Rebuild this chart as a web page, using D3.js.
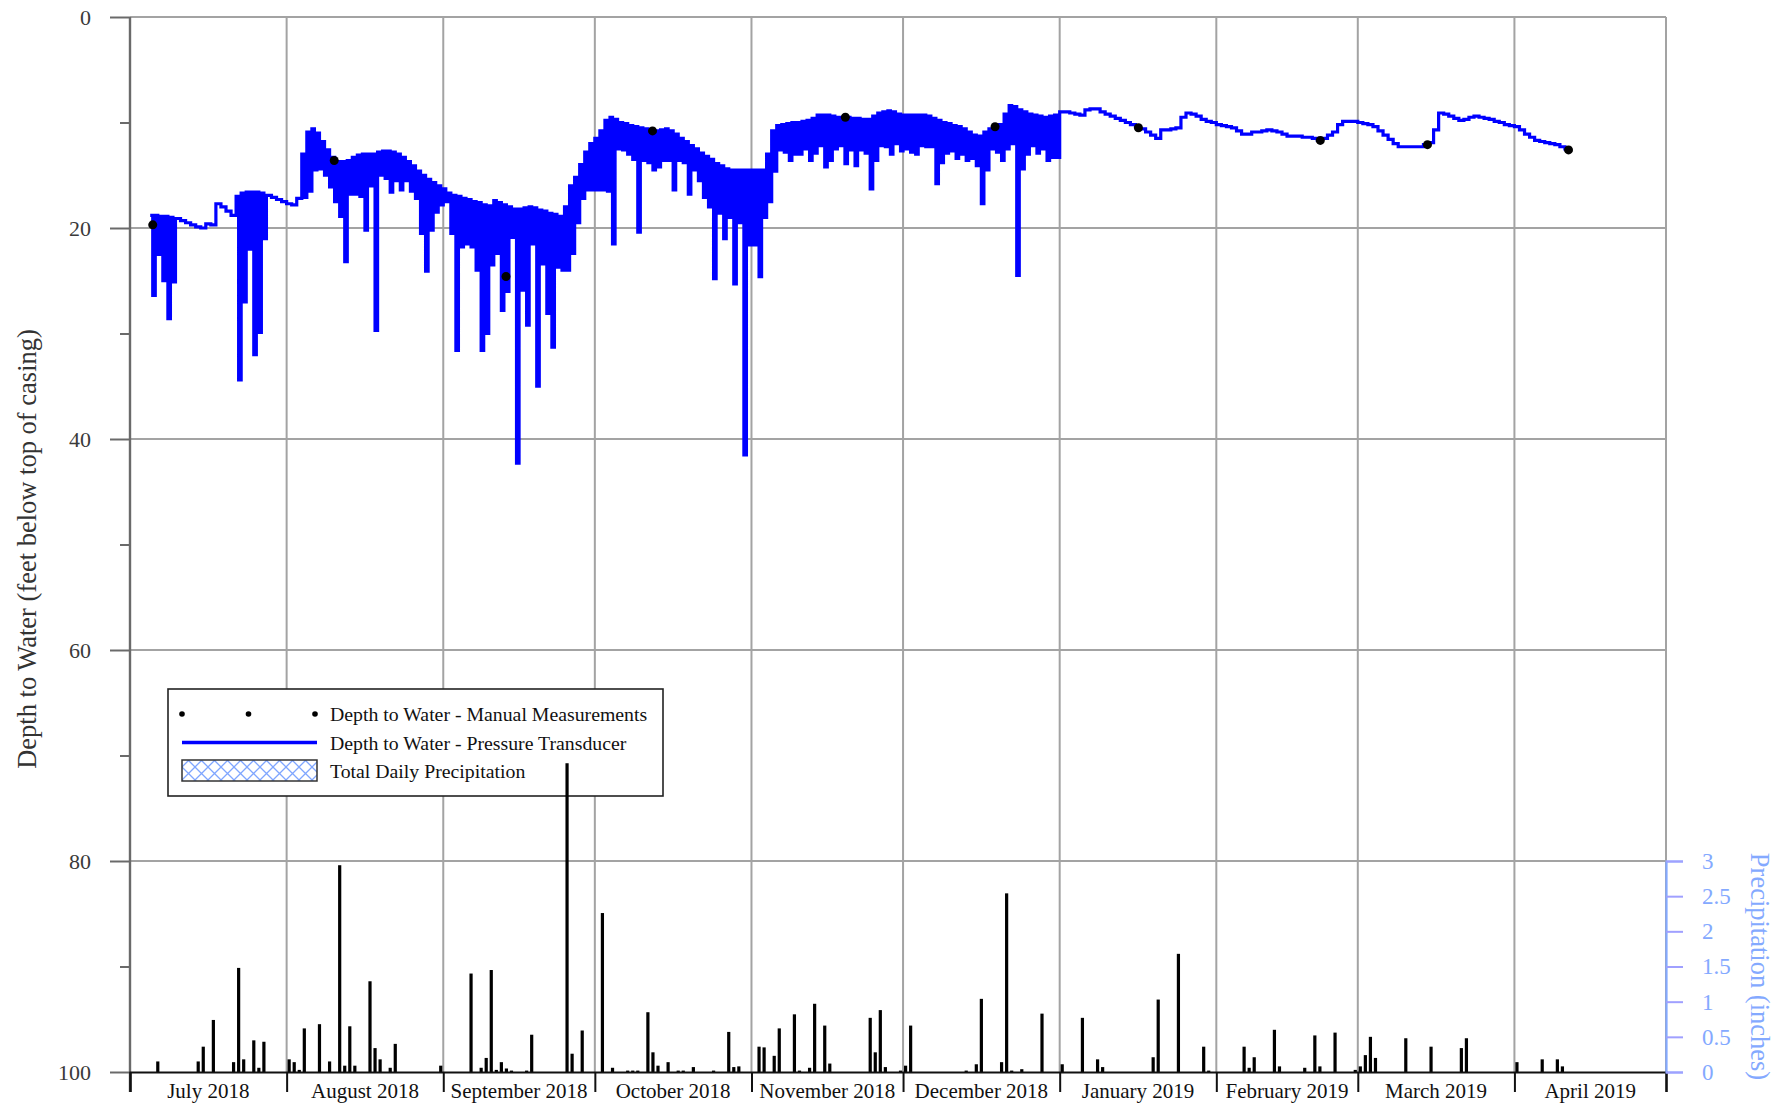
<!DOCTYPE html>
<html><head><meta charset="utf-8">
<script src="https://cdn.jsdelivr.net/npm/d3@7"></script>
<style>
body{margin:0;background:#fff}
svg{display:block}
text{font-family:"Liberation Serif","Times New Roman",serif}
</style>
</head><body>
<svg id="c" width="1788" height="1106"></svg>
<script>
// ---------------- DATA ----------------
const monthStarts = ["2018-07-01","2018-08-01","2018-09-01","2018-10-01","2018-11-01","2018-12-01",
  "2019-01-01","2019-02-01","2019-03-01","2019-04-01","2019-05-01"];
const monthLabels = ["July 2018","August 2018","September 2018","October 2018","November 2018",
  "December 2018","January 2019","February 2019","March 2019","April 2019"];
const depthTicks = [0,20,40,60,80,100];
const depthMinorTicks = [10,30,50,70,90];
const precipTicks = [0,0.5,1,1.5,2,2.5,3];

// Pressure transducer: daily shallow level (top) and deepest drawdown of the day (bottom), from 2018-07-05
const transducerStart = "2018-07-05";
const transducerTop = [
  18.8,18.8,18.9,18.9,19.0, 19.1,19.3,19.5,19.7,19.9,20.0,19.6,19.7,17.7,18.0,18.4,18.8,
  17.0,16.7,16.6,16.6,16.6,16.7, 16.9,17.1,17.3,17.5,17.7,17.8,17.2,
  13.0,10.9,10.6,11.0,11.8,12.6,13.3,13.7,13.7,13.6,13.3,13.1,13.0,13.0,13.0,12.8,12.7,12.7,12.8,13.0,
  13.3,13.7,14.1,14.6,15.0,15.4,15.7,16.0,16.3,
  16.7,16.9,17.0,17.2,17.3,17.5,17.6,17.8,17.9,17.4,17.6,17.8,18.0,18.2,18.2,18.1,18.0,18.1,18.3,18.4,
  18.6,18.7,18.9,18.0,16.0,15.2,14.0,12.8,12.0,
  11.5,10.8,9.8,9.5,9.7,10.0,10.1,10.3,10.4,10.5,10.6,10.7,10.8,10.7,10.6,10.8,11.1,11.5,11.8,12.2,
  12.5,12.9,13.2,13.5,13.9,14.1,14.4,14.5,14.5,14.5,14.5,
  14.5,14.5,14.5,13.0,10.8,10.3,10.2,10.1,10.0,10.0,9.9,9.8,9.6,9.3,9.3,9.3,9.4,9.5,9.5,9.5,
  9.6,9.6,9.7,9.7,9.4,9.1,9.0,8.9,9.0,9.2,
  9.3,9.3,9.3,9.3,9.3,9.4,9.6,9.8,10.0,10.1,10.3,10.4,10.6,10.9,11.2,11.3,10.9,10.6,10.4,10.2,
  9.2,8.4,8.5,8.8,9.0,9.2,9.3,9.4,9.5,9.4,9.3,
  9.0,9.0,9.1,9.2,9.3,8.8,8.7,8.7,9.0,9.2, 9.4,9.6,9.8,10.0,10.2,10.4,10.6,10.9,11.2,11.5,
  10.7,10.7,10.6,10.5,9.5,9.1,9.2,9.4,9.7,9.9, 10.0,10.2,10.3,10.4,10.5,10.8,11.1,11.1,10.9,10.9,
  10.8,10.7,10.8,10.9,11.1,11.3,11.3,11.3,11.4,11.4, 11.5,11.7,11.5,11.2,10.9,10.2,9.9,9.9,9.9,10.0,
  10.1,10.2,10.4,10.8,11.2,11.6,12.0,12.3,12.3,12.3, 12.3,12.3,12.1,11.9,10.7,9.1,9.2,9.4,9.6,9.8,
  9.7,9.5,9.4,9.5,9.6,9.7,9.9,10.0,10.2,10.3, 10.4,10.7,11.1,11.4,11.7,11.8,11.9,12.0,12.1,12.3,12.5,12.6
];
const transducerBottom = [
  26.4,22.5,25.0,28.6,25.1, null,null,null,null,null,null,null,null,null,null,null,null,
  34.4,27.0,22.0,32.0,29.9,21.0, null,null,null,null,null,null,null,
  17.1,16.5,14.5,14.4,15.0,16.1,17.5,18.9,23.2,16.8,16.8,17.0,20.2,16.0,29.7,15.0,15.3,16.6,15.5,16.4,
  15.5,16.5,17.2,20.5,24.1,20.2,18.5,17.8,17.5,
  20.5,31.6,21.8,21.5,21.8,24.0,31.6,30.0,23.5,22.4,27.8,26.0,20.9,42.3,25.9,29.2,21.5,35.0,23.4,28.1,
  31.3,23.7,24.0,24.0,22.4,19.5,17.2,16.4,16.4,
  16.4,16.4,16.5,21.5,12.5,12.6,13.0,13.5,20.4,13.6,13.8,14.5,14.2,13.6,13.6,16.4,13.6,13.8,16.8,14.5,
  15.5,17.1,18.0,24.8,18.6,21.0,19.0,25.3,19.5,41.5,21.6,
  21.6,24.6,19.0,17.5,14.6,12.6,12.8,13.6,13.0,13.0,12.5,13.6,12.9,12.2,14.2,13.6,12.5,12.2,13.9,12.6,
  14.1,12.6,12.9,16.3,13.6,12.2,12.3,13.0,12.0,12.7,
  12.5,12.8,13.0,12.2,12.3,12.3,15.8,13.8,12.9,12.7,13.4,13.0,13.6,13.4,14.1,17.7,14.5,12.5,12.8,13.6,
  12.5,12.0,24.5,14.4,13.0,12.2,12.9,12.5,13.6,13.3,13.3
];

// Manual measurements
const manualDates = ["2018-07-05T12:00","2018-08-10T10:00","2018-09-13T10:00","2018-10-12T10:00",
  "2018-11-19T14:00","2018-12-19T05:00","2019-01-16T14:00","2019-02-21T14:00","2019-03-14T19:00","2019-04-11T17:00"];
const manualDepths = [19.7,13.6,24.6,10.8,9.5,10.4,10.5,11.7,12.1,12.6];

// Total daily precipitation (inches)
const precipDates = [
  "2018-07-06","2018-07-14","2018-07-15","2018-07-17","2018-07-21","2018-07-22","2018-07-23","2018-07-25","2018-07-26","2018-07-27",
  "2018-08-01","2018-08-02","2018-08-03","2018-08-04","2018-08-07","2018-08-09","2018-08-11","2018-08-12","2018-08-13","2018-08-14",
  "2018-08-17","2018-08-18","2018-08-19","2018-08-21","2018-08-22","2018-08-31",
  "2018-09-06","2018-09-08","2018-09-09","2018-09-10","2018-09-11","2018-09-12","2018-09-13","2018-09-14","2018-09-17","2018-09-18",
  "2018-09-25","2018-09-26","2018-09-28",
  "2018-10-02","2018-10-04","2018-10-07","2018-10-08","2018-10-09","2018-10-11","2018-10-12","2018-10-13","2018-10-15","2018-10-17",
  "2018-10-18","2018-10-20","2018-10-24","2018-10-27","2018-10-28","2018-10-29",
  "2018-11-02","2018-11-03","2018-11-05","2018-11-06","2018-11-09","2018-11-10","2018-11-12","2018-11-13","2018-11-15","2018-11-16",
  "2018-11-24","2018-11-25","2018-11-26","2018-11-27","2018-11-30",
  "2018-12-01","2018-12-02","2018-12-13","2018-12-15","2018-12-16","2018-12-20","2018-12-21","2018-12-22","2018-12-24","2018-12-28",
  "2019-01-01","2019-01-05","2019-01-08","2019-01-09","2019-01-19","2019-01-20","2019-01-24","2019-01-29","2019-01-30",
  "2019-02-06","2019-02-07","2019-02-08","2019-02-12","2019-02-13","2019-02-18","2019-02-20","2019-02-21","2019-02-24","2019-02-28",
  "2019-03-01","2019-03-02","2019-03-03","2019-03-04","2019-03-10","2019-03-15","2019-03-21","2019-03-22",
  "2019-04-01","2019-04-06","2019-04-09","2019-04-10"
];
const precipValues = [
  0.15,0.15,0.36,0.74,0.14,1.48,0.18,0.45,0.06,0.43,
  0.18,0.14,0.03,0.62,0.68,0.15,2.94,0.09,0.65,0.09,
  1.29,0.34,0.18,0.06,0.40,0.09,
  1.40,0.06,0.20,1.45,0.03,0.14,0.05,0.02,0.02,0.53,
  4.39,0.26,0.59,
  2.26,0.06,0.02,0.02,0.02,0.85,0.28,0.09,0.14,0.02,
  0.02,0.07,0.02,0.57,0.07,0.08,
  0.36,0.35,0.23,0.62,0.82,0.02,0.06,0.97,0.66,0.12,
  0.77,0.28,0.88,0.07,0.02,
  0.09,0.66,0.02,0.11,1.04,0.14,2.54,0.02,0.04,0.83,
  0.11,0.77,0.18,0.07,0.21,1.03,1.68,0.36,0.02,
  0.36,0.06,0.21,0.60,0.08,0.06,0.52,0.08,0.56,0.03,
  0.08,0.24,0.50,0.20,0.48,0.36,0.34,0.48,
  0.14,0.18,0.18,0.08
];

const legendItems = ["Depth to Water - Manual Measurements","Depth to Water - Pressure Transducer","Total Daily Precipitation"];

// ---------------- CHART ----------------
const DAY = 864e5;
const parseUTC = s => new Date(s.length > 10 ? s + ":00Z" : s + "T00:00:00Z");
const svg = d3.select("#c");
const L = 130, R = 1666, T = 17, B = 1072;
const GRID = "#a3a3a3", AXIS = "#6a6a6a", PBLUE = "#84a9ff", PTICK = "#a0a0ff";

const x = d3.scaleUtc().domain([parseUTC(monthStarts[0]), parseUTC(monthStarts[monthStarts.length-1])]).range([L, R]);
const y = d3.scaleLinear().domain([0,100]).range([T, B]);
const yp = d3.scaleLinear().domain([0,3]).range([B, y(80)]);

const defs = svg.append("defs");
const pat = defs.append("pattern").attr("id","hatch").attr("patternUnits","userSpaceOnUse")
  .attr("width",13).attr("height",13);
pat.append("rect").attr("width",13).attr("height",13).attr("fill","#fff");
pat.append("path").attr("d","M0,0L13,13M13,0L0,13").attr("stroke","#7fa6ff").attr("stroke-width",1.3);

// grid
const g = svg.append("g");
g.selectAll("line.h").data(depthTicks.filter(d => d > 0 && d < 100)).join("line")
  .attr("x1",L).attr("x2",R).attr("y1",d=>y(d)).attr("y2",d=>y(d))
  .attr("stroke",GRID).attr("stroke-width",2);
g.append("line").attr("x1",L).attr("x2",R).attr("y1",y(0)).attr("y2",y(0)).attr("stroke",GRID).attr("stroke-width",2);
g.selectAll("line.v").data(monthStarts.slice(1)).join("line")
  .attr("x1",d=>x(parseUTC(d))).attr("x2",d=>x(parseUTC(d))).attr("y1",T).attr("y2",B)
  .attr("stroke",GRID).attr("stroke-width",2);

// legend
const lg = svg.append("g");
lg.append("rect").attr("x",168).attr("y",689).attr("width",495).attr("height",107)
  .attr("fill","#fff").attr("stroke","#222").attr("stroke-width",1.6);
[182,248.5,315].forEach(cx => lg.append("circle").attr("cx",cx).attr("cy",714).attr("r",2.8).attr("fill","#000"));
lg.append("line").attr("x1",182).attr("x2",317).attr("y1",742.5).attr("y2",742.5).attr("stroke","#0000ff").attr("stroke-width",3.5);
lg.append("rect").attr("x",182).attr("y",760).attr("width",135).attr("height",21)
  .attr("fill","url(#hatch)").attr("stroke","#333").attr("stroke-width",1.5);
lg.selectAll("text").data(legendItems).join("text")
  .attr("x",330).attr("y",(d,i)=>[714,742.5,770.5][i]).attr("dominant-baseline","central")
  .attr("font-size",19.8).attr("fill","#111").text(d=>d);

// precipitation bars
svg.append("g").selectAll("rect").data(precipDates.map((d,i)=>({date:parseUTC(d), v:precipValues[i]}))).join("rect")
  .attr("x",d=>x(new Date(+d.date + DAY/2)) - 1.6).attr("width",3.2)
  .attr("y",d=>yp(d.v)).attr("height",d=>yp(0)-yp(d.v)).attr("fill","#000");

// axes
const ax = svg.append("g").attr("transform",`translate(${L},0)`)
  .call(d3.axisLeft(y).tickValues(depthTicks).tickSize(20).tickPadding(19).tickFormat(d3.format("d")));
ax.selectAll(".tick text").attr("font-size",22).attr("fill","#3a3a3a").attr("font-family","DejaVu Sans");
ax.selectAll(".tick line").attr("stroke",AXIS).attr("stroke-width",2);
ax.select(".domain").remove();
const axm = svg.append("g").attr("transform",`translate(${L},0)`)
  .call(d3.axisLeft(y).tickValues(depthMinorTicks).tickSize(10).tickFormat(""));
axm.selectAll(".tick line").attr("stroke",AXIS).attr("stroke-width",2);
axm.select(".domain").remove();
svg.append("line").attr("x1",L).attr("x2",L).attr("y1",T).attr("y2",B+20).attr("stroke",AXIS).attr("stroke-width",2.4);

const bx = svg.append("g").attr("transform",`translate(0,${B})`)
  .call(d3.axisBottom(x).tickValues(monthStarts.map(parseUTC)).tickSize(20).tickFormat(""));
bx.select(".domain").attr("stroke","#111").attr("stroke-width",2.2);
bx.selectAll(".tick line").attr("stroke","#111").attr("stroke-width",2);
svg.append("g").selectAll("text").data(monthLabels).join("text")
  .attr("x",(d,i)=> (x(parseUTC(monthStarts[i])) + x(parseUTC(monthStarts[i+1])))/2)
  .attr("y",1098).attr("text-anchor","middle").attr("font-size",21).attr("fill","#111").text(d=>d);

const rx = svg.append("g").attr("transform",`translate(${R},0)`)
  .call(d3.axisRight(yp).tickValues(precipTicks).tickSize(17).tickPadding(19).tickFormat(d=>String(d)));
rx.select(".domain").attr("stroke",PBLUE).attr("stroke-width",2.2);
rx.selectAll(".tick line").attr("stroke",PTICK).attr("stroke-width",2);
rx.selectAll(".tick text").attr("font-size",23).attr("fill",PBLUE).attr("font-family","Liberation Serif");

svg.append("text").attr("transform","translate(27,549) rotate(-90)").attr("text-anchor","middle")
  .attr("dominant-baseline","central").attr("font-size",26.5).attr("fill","#333")
  .text("Depth to Water (feet below top of casing)");
svg.append("text").attr("transform",`translate(1760,${(yp(0)+yp(3))/2}) rotate(90)`).attr("text-anchor","middle")
  .attr("dominant-baseline","central").attr("font-size",26.5).attr("fill",PBLUE)
  .text("Precipitation (inches)");

// transducer line
const t0 = +parseUTC(transducerStart);
const pts = [];
transducerTop.forEach((t,i) => {
  const day = t0 + i*DAY;
  pts.push([new Date(day), t]);
  const b = transducerBottom[i];
  if (b != null) pts.push([new Date(day + DAY/2), b]);
});
svg.append("path").datum(pts)
  .attr("d", d3.line().x(p=>x(p[0])).y(p=>y(p[1])).curve(d3.curveStepAfter))
  .attr("fill","none").attr("stroke","#0000ff").attr("stroke-width",3.2).attr("stroke-linejoin","miter");

// manual points
svg.append("g").selectAll("circle").data(manualDates.map((d,i)=>({date:parseUTC(d), v:manualDepths[i]}))).join("circle")
  .attr("cx",d=>x(d.date)).attr("cy",d=>y(d.v)).attr("r",4.5).attr("fill","#000");
</script>
</body></html>
